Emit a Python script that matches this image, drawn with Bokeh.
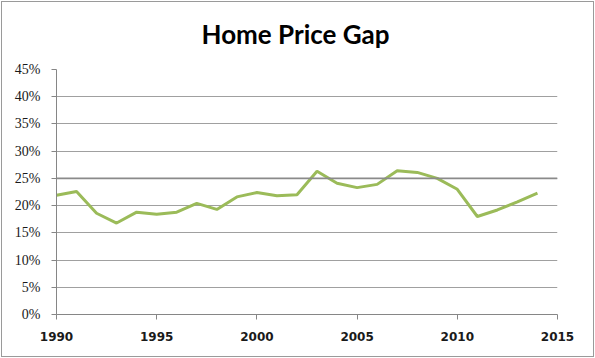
from bokeh.plotting import figure
from bokeh.models import FixedTicker, NumeralTickFormatter, Span, Range1d
from bokeh.embed import file_html
from bokeh.resources import INLINE

title_text = "Home Price Gap"
years = list(range(1990, 2015))
gap = [0.219, 0.226, 0.186, 0.168, 0.188, 0.184, 0.188, 0.204, 0.193, 0.216,
       0.224, 0.218, 0.220, 0.263, 0.241, 0.233, 0.239, 0.264, 0.261, 0.250,
       0.230, 0.180, 0.192, 0.207, 0.223]
y_ticks = [0, 0.05, 0.10, 0.15, 0.20, 0.25, 0.30, 0.35, 0.40, 0.45]
x_ticks = [1990, 1995, 2000, 2005, 2010, 2015]

p = figure(width=595, height=358, output_backend="svg", toolbar_location=None,
           title=title_text,
           x_range=Range1d(1990, 2015), y_range=Range1d(0, 0.45),
           min_border_left=56, min_border_right=38, min_border_top=0, min_border_bottom=44)
p.styles = {"outline": "1px solid #9a9a9a", "outline-offset": "-2px"}

p.title.align = "left"
p.title.offset = 145
p.title.vertical_align = "top"
p.title.text_font = "Lato"
p.title.text_font_size = "26px"
p.title.text_font_style = "bold"
p.title.text_color = "#000000"
p.title.standoff = 35

p.outline_line_color = None
p.background_fill_color = "white"
p.border_fill_color = None

p.xaxis.ticker = FixedTicker(ticks=x_ticks)
p.yaxis.ticker = FixedTicker(ticks=y_ticks)
p.yaxis.formatter = NumeralTickFormatter(format="0%")
for ax in (p.xaxis, p.yaxis):
    ax.axis_line_color = "#868686"
    ax.major_tick_line_color = "#868686"
    ax.minor_tick_line_color = None
    ax.major_tick_in = 0
    ax.major_tick_out = 5
    ax.major_label_text_color = "#1a1a1a"
p.xaxis.major_label_text_font = "DejaVu Sans"
p.xaxis.major_label_text_font_size = "12px"
p.xaxis.major_label_text_font_style = "bold"
p.xaxis.major_label_standoff = 12
p.yaxis.major_label_text_font = "Liberation Serif"
p.yaxis.major_label_text_font_size = "14px"
p.yaxis.major_label_text_font_style = "normal"
p.yaxis.major_label_standoff = 11

p.xgrid.grid_line_color = None
p.ygrid.ticker = FixedTicker(ticks=y_ticks)
p.ygrid.grid_line_color = "#a0a0a0"
p.ygrid.grid_line_width = 1

p.add_layout(Span(location=0.25, dimension="width", line_color="#8a8a8a", line_width=1.6))

p.line(years, gap, line_color="#9bbb59", line_width=3)

open("out.html", "w").write(file_html(p, INLINE))
